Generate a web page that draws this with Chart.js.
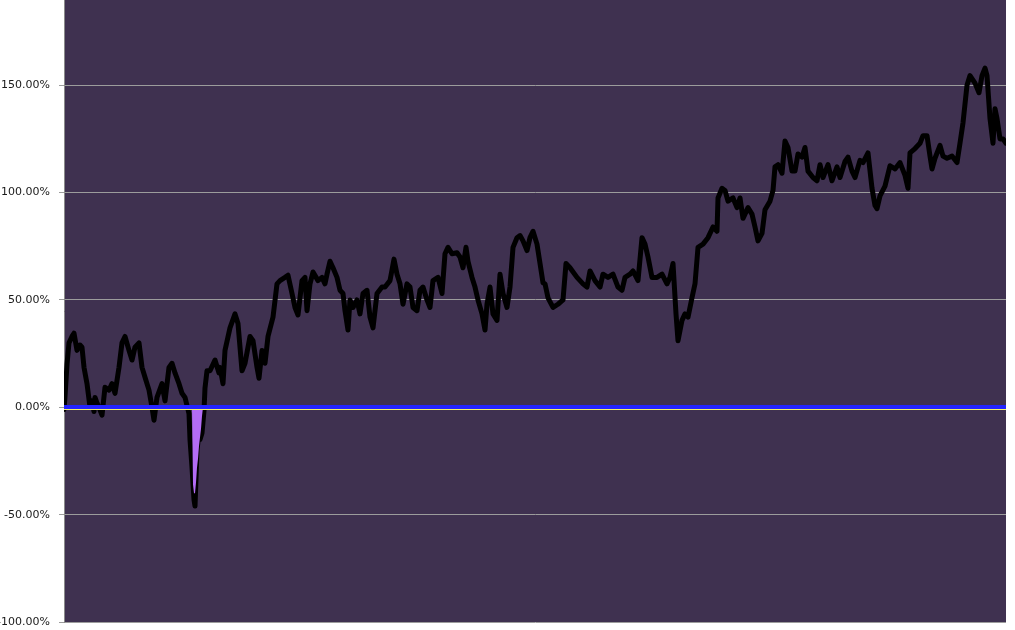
<!DOCTYPE html>
<html>
<head>
<meta charset="utf-8">
<script src="https://cdn.jsdelivr.net/npm/chart.js@4.4.1/dist/chart.umd.min.js"></script>
<style>
    body { margin: 0; background: #ffffff; }
    #wrap { width: 1015px; height: 630px; position: relative; }
</style>
</head>
<body>
<div id="wrap"><canvas id="chart"></canvas></div>
<script>
// ─── Data (cumulative return, %) ───
const days = [
    0, 2, 6, 10, 16, 20, 26, 32, 36, 40, 46, 52, 56, 60, 62, 66, 70, 76, 82, 90,
    96, 102, 110, 116, 122, 130, 136, 142, 150, 156, 162, 170, 176, 180, 186, 196, 202, 210, 216, 222,
    230, 236, 242, 250, 252, 256, 260, 262, 266, 270, 272, 276, 280, 282, 286, 292, 302, 310, 312, 318,
    322, 332, 342, 348, 356, 362, 372, 378, 386, 390, 396, 402, 408, 418, 426, 432, 442, 448, 456, 462,
    468, 476, 482, 486, 492, 498, 508, 516, 522, 526, 532, 538, 546, 552, 558, 562, 568, 572, 578, 586,
    592, 598, 606, 612, 618, 626, 636, 642, 652, 660, 666, 672, 678, 686, 692, 698, 706, 712, 718, 726,
    732, 738, 748, 756, 762, 768, 776, 786, 792, 798, 804, 808, 816, 822, 828, 836, 842, 846, 852, 858,
    866, 872, 878, 886, 892, 898, 906, 912, 918, 926, 932, 938, 946, 952, 958, 962, 968, 978, 988, 998,
    1004, 1012, 1026, 1038, 1046, 1052, 1062, 1072, 1078, 1088, 1098, 1108, 1116, 1122, 1132, 1138, 1148, 1156, 1162, 1168,
    1176, 1186, 1196, 1206, 1212, 1218, 1224, 1228, 1236, 1242, 1248, 1256, 1262, 1268, 1278, 1288, 1298, 1306, 1308, 1316,
    1322, 1328, 1338, 1346, 1352, 1358, 1368, 1376, 1382, 1388, 1396, 1402, 1412, 1418, 1422, 1428, 1436, 1442, 1448, 1456,
    1462, 1468, 1476, 1482, 1488, 1498, 1506, 1512, 1518, 1528, 1536, 1546, 1552, 1562, 1568, 1576, 1582, 1592, 1598, 1608,
    1616, 1622, 1626, 1632, 1642, 1652, 1662, 1672, 1682, 1688, 1692, 1702, 1712, 1718, 1726, 1732, 1736, 1742, 1752, 1758,
    1766, 1776, 1786, 1792, 1798, 1806, 1812, 1822, 1830, 1836, 1842, 1846, 1852, 1858, 1862, 1866, 1872, 1878, 1884
];
const returns = [
    -1, 5, 20, 30, 33, 34.5, 26.5, 29, 28, 18.6, 11, 0, 3, -2, 4.6, 2, 0, -3.7, 9.3, 8,
    11, 6.5, 18.6, 30, 33, 26.5, 22, 28, 30, 18.6, 14, 8, 0, -6, 4.6, 11, 3, 18.6, 20.5, 16,
    11, 6.5, 4.6, -3, -15, -28, -43, -46, -20, -12, -15, -12, -1.5, 9, 17, 17, 22, 16, 18.6, 11,
    26.5, 37, 43.5, 39, 17, 20.5, 33, 31, 18.6, 13.5, 26.5, 20.5, 33, 42, 57.5, 59, 60.5, 61.5, 53, 46.5,
    43, 59, 60.5, 45, 57.5, 63, 59, 60.5, 57.5, 62, 68, 65, 60.5, 54.5, 53, 45, 36, 50, 46.5, 50,
    43.5, 53, 54.5, 42, 37, 53, 56, 56, 59, 69, 62, 57.5, 48, 57.5, 56, 46.5, 45, 54.5, 56, 50,
    46.5, 59, 60.5, 53, 71.5, 74.5, 71.5, 72, 70, 65, 74.5, 68, 60.5, 56, 50, 43.5, 36, 48, 56, 43.5,
    40.5, 62, 53, 46.5, 56, 74.5, 79, 80, 77.5, 73, 79, 82, 76, 67, 58, 57.5, 51, 46.5, 48, 50,
    67, 65, 60.5, 57.5, 56, 63.5, 59, 56, 62, 60.5, 62, 56, 54.5, 60.5, 62, 63.5, 59, 79, 76, 70,
    60.5, 60.5, 62, 57.5, 60.5, 67, 43.5, 31, 40.5, 43.5, 42, 51, 57.5, 74.5, 76, 79, 84, 82, 97.5, 102,
    101, 96, 97.5, 93, 97.5, 88, 93, 90, 84, 77.5, 81, 92, 96, 101, 112, 113, 109, 124, 121, 110,
    110, 118, 116.5, 121, 110, 107, 105.5, 113, 107, 113, 105.5, 112, 107, 114.5, 116.5, 110, 107, 115, 114, 118.5,
    102, 94, 92.5, 98.5, 103, 112.5, 111, 114, 108, 102, 118.5, 120.5, 123, 126.5, 126.5, 117, 111, 116, 122, 117,
    116, 117, 114, 123, 132.5, 150, 154.5, 151, 146.5, 154.5, 158, 154.5, 134.5, 123, 139, 134.5, 125, 125, 123
];
// drawdown band shown in lilac
const ddDays = [256, 258, 260, 262, 264, 266, 268, 270, 272, 274, 276, 278];
const ddValues = [0, -36, -40, -40, -35, -28, -24, -18, -14, -10, -4, 0];

const yTicks = [-100, -50, 0, 50, 100, 150];
const Y_MIN = -100;
const Y_MAX = 189.7;

// ─── Plugins ───
const plotBackground = {
    id: 'plotBackground',
    beforeDraw: (chart) => {
        const { ctx, chartArea } = chart;
        ctx.save();
        ctx.fillStyle = '#3f3150';
        ctx.fillRect(chartArea.left, chartArea.top, chartArea.right - chartArea.left, chartArea.bottom - chartArea.top);
        ctx.restore();
    },
};

const zeroLine = {
    id: 'zeroLine',
    afterDatasetsDraw: (chart) => {
        const { ctx, chartArea, scales } = chart;
        const y0 = Math.round(scales.y.getPixelForValue(0));
        ctx.save();
        ctx.fillStyle = '#2424ff';
        ctx.fillRect(chartArea.left, y0 - 2, chartArea.right - chartArea.left, 4);
        ctx.fillStyle = '#f4f46a';
        ctx.fillRect(chartArea.left, y0 + 2, chartArea.right - chartArea.left, 1);
        ctx.restore();
    },
};

const toPoints = (xs, ys) => xs.map((x, i) => ({ x, y: ys[i] }));

new Chart(document.getElementById('chart'), {
    type: 'line',
    data: {
        datasets: [
            {
                label: 'Drawdown',
                data: toPoints(ddDays, ddValues),
                borderWidth: 0,
                backgroundColor: '#b36cf5',
                fill: 'origin',
                pointRadius: 0,
                order: 1,
            },
            {
                label: 'Return',
                data: toPoints(days, returns),
                borderColor: '#000000',
                borderWidth: 5,
                borderJoinStyle: 'round',
                borderCapStyle: 'round',
                fill: false,
                pointRadius: 0,
                tension: 0,
                order: 2,
            },
        ],
    },
    options: {
        responsive: true,
        maintainAspectRatio: false,
        animation: false,
        layout: { padding: { left: 0, right: 9, top: 0, bottom: 8 } },
        plugins: {
            legend: { display: false },
            tooltip: { enabled: false },
        },
        scales: {
            x: {
                type: 'linear',
                min: days[0],
                max: days[days.length - 1],
                display: false,
            },
            y: {
                min: Y_MIN,
                max: Y_MAX,
                afterBuildTicks: (scale) => {
                    scale.ticks = yTicks.map(v => ({ value: v }));
                },
                afterFit: (scale) => {
                    scale.width = 64;
                    scale.paddingTop = 0;
                    scale.paddingBottom = 0;
                },
                grid: {
                    color: '#9c9c9c',
                    lineWidth: 1,
                    tickLength: 5,
                },
                border: { color: '#8a8a8a', width: 1 },
                ticks: {
                    padding: 9,
                    color: '#1a1a1a',
                    font: { family: "'DejaVu Sans'", size: 11 },
                    callback: (v) => v.toFixed(2) + '%',
                },
            },
        },
    },
    plugins: [plotBackground, zeroLine],
});
</script>
</body>
</html>
